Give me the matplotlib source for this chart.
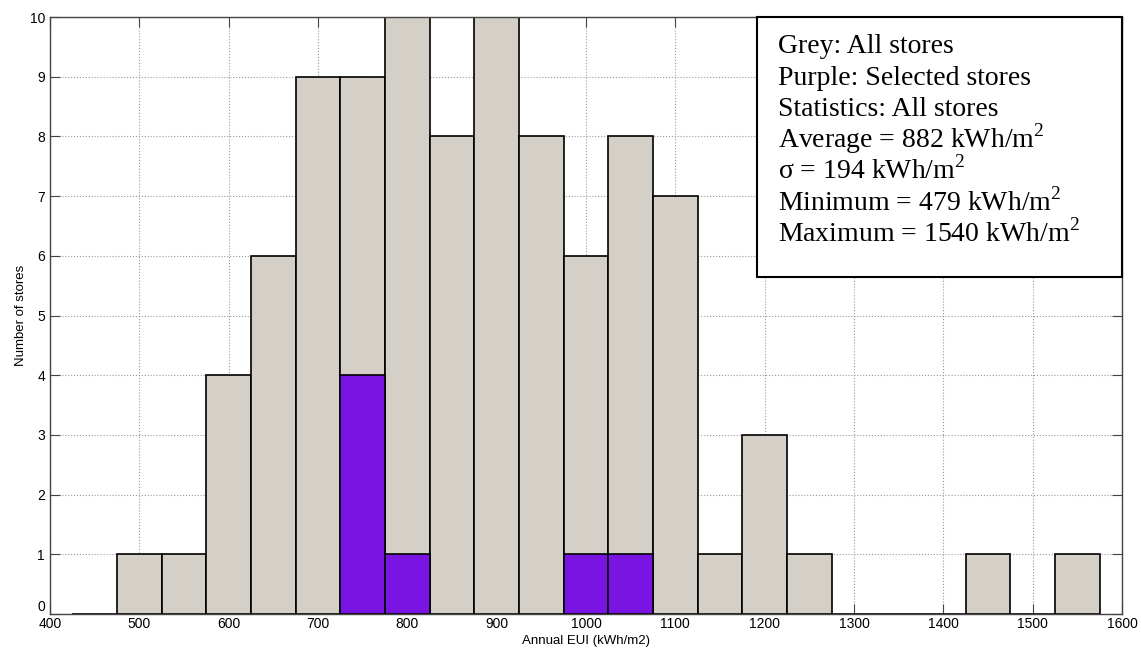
import numpy as np
import matplotlib.pyplot as plt
from matplotlib.patches import Rectangle

# bin centres (kWh/m2) and counts
bin_centres = [450, 500, 550, 600, 650, 700, 750, 800, 850, 900, 950, 1000,
               1050, 1100, 1150, 1200, 1250, 1300, 1350, 1400, 1450, 1500, 1550]
all_stores = [0, 1, 1, 4, 6, 9, 9, 10, 8, 10, 8, 6,
              8, 7, 1, 3, 1, 0, 0, 0, 1, 0, 1]
selected_stores = [0, 0, 0, 0, 0, 0, 4, 1, 0, 0, 0, 1,
                   1, 0, 0, 0, 0, 0, 0, 0, 0, 0, 0]

info_lines = [
    "Grey: All stores",
    "Purple: Selected stores",
    "Statistics: All stores",
    "Average = 882 kWh/m$^2$",
    "\u03c3 = 194 kWh/m$^2$",
    "Minimum = 479 kWh/m$^2$",
    "Maximum = 1540 kWh/m$^2$",
]

plt.rcParams['font.family'] = ['Liberation Sans', 'DejaVu Sans']
plt.rcParams['mathtext.fontset'] = 'custom'
plt.rcParams['mathtext.rm'] = 'Liberation Serif'

fig = plt.figure(figsize=(11.41, 6.5), dpi=100)
ax = fig.add_axes([0.0438, 0.0554, 0.9396, 0.9184])

ax.bar(bin_centres, all_stores, width=50, color='#d4d0c8', edgecolor='black',
       linewidth=1.2, zorder=2)
sel = np.array(selected_stores)
mask = sel > 0
ax.bar(np.array(bin_centres)[mask], sel[mask], width=50, color='#7914e3',
       edgecolor='black', linewidth=1.2, zorder=3)

ax.set_xlim(400, 1600)
ax.set_ylim(0, 10)
ax.set_xticks(np.arange(400, 1601, 100))
ax.set_yticks(np.arange(0, 11, 1))
ax.grid(True, linestyle=':', color='#999999', linewidth=0.8, zorder=0)
ax.set_axisbelow(True)
ax.tick_params(direction='in', labelsize=10, length=7, width=0.8,
               top=True, right=True, color='#444444')
ax.tick_params(axis='x', pad=2)
for s in ax.spines.values():
    s.set_color('#444444')
    s.set_linewidth(1.0)
    s.set_zorder(5)

# the "0" sits just above the "400" like in the original
ax.get_yticklabels()[0].set_verticalalignment('bottom')

ax.set_xlabel("Annual EUI (kWh/m2)", fontsize=9.5)
ax.xaxis.set_label_coords(0.5, -0.036)
ax.set_ylabel("Number of stores", fontsize=9.5)
ax.yaxis.set_label_coords(-0.021, 0.5)

# statistics box in the upper right corner
ax.add_patch(Rectangle((0.6595, 0.5645), 0.3405, 0.4355, transform=ax.transAxes,
                       facecolor='white', edgecolor='black', linewidth=1.5,
                       zorder=6, clip_on=False))
for i, line in enumerate(info_lines):
    baseline_px = 53 + 31.5 * i
    ax.text(0.679, (614 - baseline_px) / 597, line, transform=ax.transAxes,
            va='baseline', ha='left', fontsize=20, family='Liberation Serif',
            zorder=7)

fig.savefig("out.png", dpi=100)
